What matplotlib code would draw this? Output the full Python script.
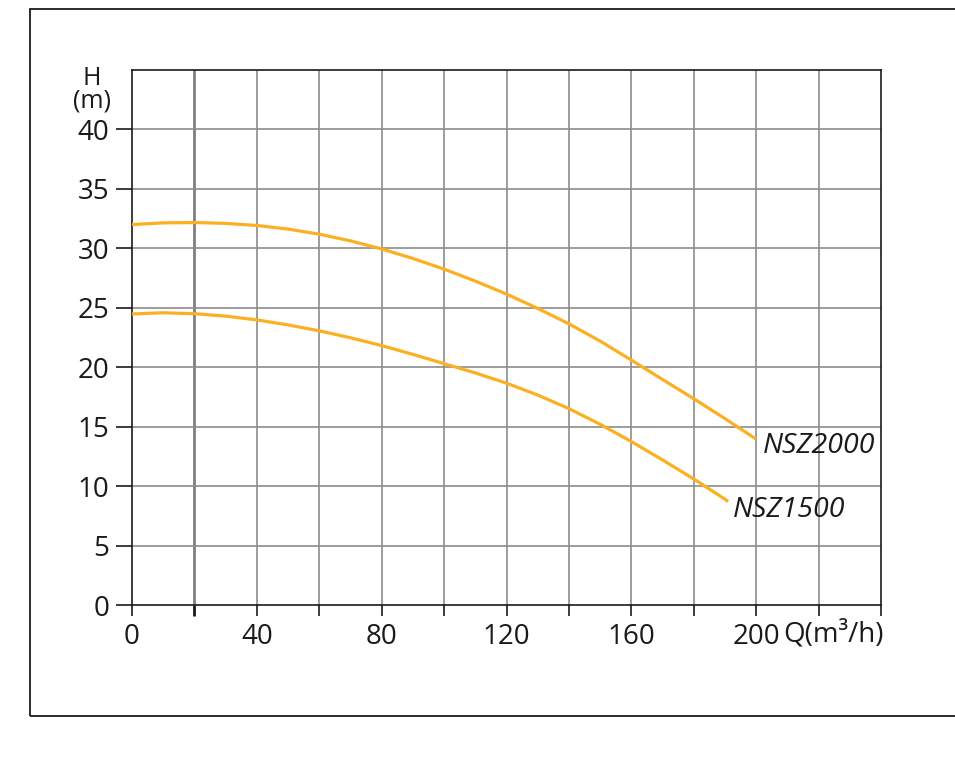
import matplotlib
matplotlib.use("Agg")
import matplotlib.pyplot as plt
from matplotlib.patches import Rectangle

plt.rcParams["font.family"] = ["Open Sans", "DejaVu Sans"]

# 读图估计的数据（每 10 m³/h 读一次）
q_2000 = [0, 10, 20, 30, 40, 50, 60, 70, 80, 90, 100,
          110, 120, 130, 140, 150, 160, 170, 180, 190, 200]
h_2000 = [32.0, 32.14, 32.17, 32.1, 31.92, 31.62, 31.19, 30.63, 29.95, 29.15, 28.25,
          27.25, 26.15, 24.95, 23.65, 22.2, 20.6, 18.97, 17.35, 15.68, 13.95]
q_1500 = [0, 10, 20, 30, 40, 50, 60, 70, 80, 90, 100,
          110, 120, 130, 140, 150, 160, 170, 180, 190, 191]
h_1500 = [24.48, 24.58, 24.5, 24.3, 23.98, 23.56, 23.06, 22.48, 21.82, 21.08, 20.3,
          19.52, 18.66, 17.66, 16.52, 15.2, 13.75, 12.2, 10.6, 8.9, 8.7]

x_ticks = [0, 20, 40, 60, 80, 100, 120, 140, 160, 180, 200, 220, 240]
x_labels = ["0", "", "40", "", "80", "", "120", "", "160", "", "200", "", ""]
y_ticks = [0, 5, 10, 15, 20, 25, 30, 35, 40]
y_labels = ["0", "5", "10", "15", "20", "25", "30", "35", "40"]

line_color = "#fbb022"
grid_color = "#8c8c8c"

fig = plt.figure(figsize=(9.55, 7.7), dpi=100)
ax = fig.add_axes([132 / 955, 1 - 605 / 770, 749 / 955, 535 / 770])

# 外框（右侧超出画面）
fig.patches.append(Rectangle((29.5 / 955, 1 - 716 / 770), 1.0, (716 - 8.5) / 770,
                             transform=fig.transFigure, fill=False,
                             edgecolor="#1a1a1a", linewidth=1.3))

ax.set_xlim(0, 240)
ax.set_ylim(0, 45)

# 网格
for x in x_ticks[1:-1]:
    if x == 20:
        ax.axvline(x, color="#7f7f7f", linewidth=2.0, zorder=1)
    else:
        ax.axvline(x, color=grid_color, linewidth=1.2, zorder=1)
for y in y_ticks[1:]:
    ax.axhline(y, color=grid_color, linewidth=1.2, zorder=1)

ax.plot(q_2000, h_2000, color=line_color, linewidth=2.3, solid_joinstyle="round",
        solid_capstyle="butt", zorder=3)
ax.plot(q_1500, h_1500, color=line_color, linewidth=2.3, solid_joinstyle="round",
        solid_capstyle="butt", zorder=3)

ax.text(202, 13.35, "NSZ2000", fontsize=20.5, style="italic", color="#1a1a1a",
        ha="left", va="center")
ax.text(192.5, 8.0, "NSZ1500", fontsize=20.5, style="italic", color="#1a1a1a",
        ha="left", va="center")

ax.set_xticks(x_ticks)
ax.set_xticklabels(x_labels)
ax.set_yticks(y_ticks)
ax.set_yticklabels(y_labels)
ax.tick_params(axis="x", direction="out", length=8, width=1.2, pad=5,
               labelsize=20, colors="#1a1a1a")
ax.tick_params(axis="y", direction="out", length=11.5, width=1.2, pad=5,
               labelsize=20, colors="#1a1a1a")
xt = ax.get_xticklines()
xt[2].set_color("#6f6f6f")
xt[2].set_markeredgewidth(2.0)

for s in ax.spines.values():
    s.set_color("#1a1a1a")
    s.set_linewidth(1.2)

# 轴标题
fig.text(92 / 955, 1 - 90 / 770, "H\n(m)", fontsize=18, color="#1a1a1a",
         ha="center", va="center", multialignment="center", linespacing=0.85)
fig.text(783 / 955, 1 - 634 / 770, "Q(m³/h)", fontsize=20, color="#1a1a1a",
         ha="left", va="center")

fig.savefig("out.png", dpi=100, facecolor="white")
